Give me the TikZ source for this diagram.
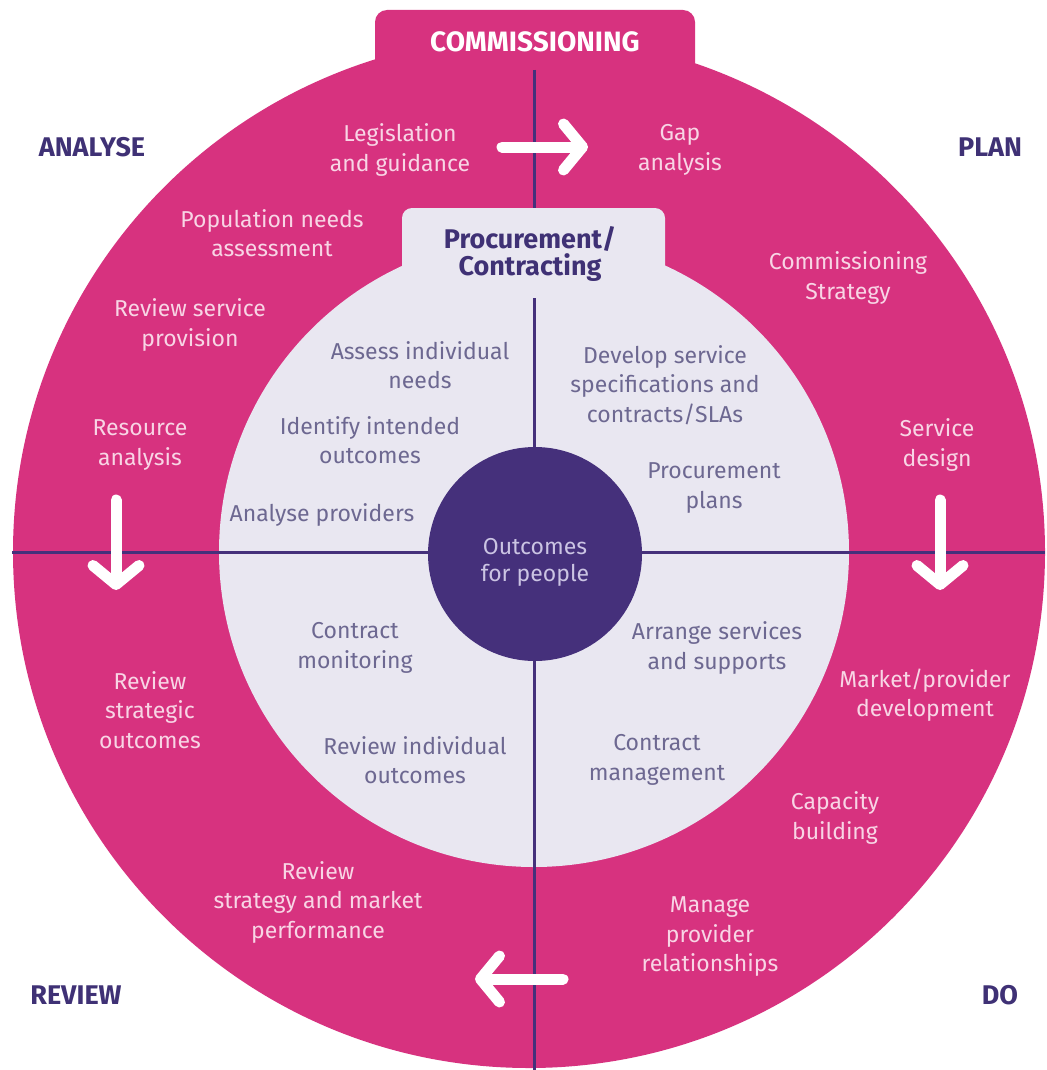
\documentclass[tikz,border=0pt]{standalone}
\usepackage{fontspec}
\setmainfont{Fira Sans}
\usepackage{xcolor}
\usetikzlibrary{arrows.meta, positioning}

\definecolor{cpink}{HTML}{D7327F}
\definecolor{clight}{HTML}{E9E7F1}
\definecolor{cdark}{HTML}{45307B}
\definecolor{cptext}{HTML}{F8D5E5}
\definecolor{citext}{HTML}{6D6891}
\definecolor{chead}{HTML}{3F3175}
\definecolor{cctext}{HTML}{CBC4E3}

\begin{document}
\begin{tikzpicture}[x=1pt, y=-1pt,
        outertext/.style={align=center, text=cptext, font=\fontsize{23}{29.5}\selectfont},
        innertext/.style={align=center, text=citext, font=\fontsize{23}{29.5}\selectfont},
        phase/.style={text=chead, font=\bfseries\fontsize{27}{30}\selectfont},
        divider/.style={draw=cdark, line width=3pt},
        turn/.style={draw=white, line width=11pt, line cap=round,
            -{Straight Barb[round, length=19pt, width=46pt]}}
    ]
        \useasboundingbox (0,0) rectangle (1046,1070);

        % rings
        \fill[cpink, rounded corners=12pt] (375,10) rectangle (695,110);
        \fill[cpink] (529,552) circle (516);
        \fill[clight, rounded corners=10pt] (402,208) rectangle (665,310);
        \fill[clight] (534,552) circle (315);

        % dividers
        \coordinate (ntop) at (534,70);
        \coordinate (ntab) at (534,208);
        \coordinate (nin) at (534,298);
        \coordinate (sbot) at (534,1070);
        \coordinate (west) at (12,552);
        \coordinate (east) at (1045,552);
        \draw[divider] (ntop) -- (ntab);
        \draw[divider] (nin) -- (sbot);
        \draw[divider] (west) -- (east);

        \node[circle, fill=cdark, minimum size=214pt, inner sep=0pt] (core) at (535,554) {};
        \node[align=center, text=cctext, font=\fontsize{23}{27}\selectfont] (outcomes) at (535,562) {Outcomes\\for people};

        % turning arrows
        \coordinate (a1) at (502,147);
        \coordinate (a2) at (588,147);
        \coordinate (b1) at (116,500);
        \coordinate (b2) at (116,590);
        \coordinate (c1) at (940,500);
        \coordinate (c2) at (940,590);
        \coordinate (d1) at (563,979);
        \coordinate (d2) at (475,979);
        \draw[turn] (a1) -- (a2);
        \draw[turn] (b1) -- (b2);
        \draw[turn] (c1) -- (c2);
        \draw[turn] (d1) -- (d2);

        % headings
        \node[text=white, font=\bfseries\fontsize{28}{30}\selectfont] (comm) at (535,42) {COMMISSIONING};
        \node[phase] (analyse) at (92,147) {ANALYSE};
        \node[phase] (plan) at (990,147) {PLAN};
        \node[phase] (review) at (76,995) {REVIEW};
        \node[phase] (do) at (1000,995) {DO};
        \node[align=center, text=chead, font=\bfseries\fontsize{27}{27}\selectfont] (proc) at (530,254) {Procurement/\\Contracting};

        % outer ring
        \node[outertext] (legis) at (400,150) {Legislation\\and guidance};
        \node[outertext] (gap) at (680,150) {Gap\\analysis};
        \node[outertext] (popn) at (272,233) {Population needs\\assessment};
        \node[outertext] (revserv) at (190,325) {Review service\\provision};
        \node[outertext] (resource) at (140,445) {Resource\\analysis};
        \node[outertext] (strategy) at (848,278) {Commissioning\\Strategy};
        \node[outertext] (design) at (937,445) {Service\\design};
        \node[outertext] (revstrat) at (150,710) {Review\\strategic\\outcomes};
        \node[outertext] (market) at (925,695) {Market/provider\\development};
        \node[outertext] (capacity) at (835,818) {Capacity\\building};
        \node[outertext] (revmarket) at (318,902) {Review\\strategy and market\\performance};
        \node[outertext] (manage) at (710,937) {Manage\\provider\\relationships};

        % inner ring
        \node[innertext] (assess) at (420,365) {Assess individual\\needs};
        \node[innertext] (identify) at (370,440) {Identify intended\\outcomes};
        \node[innertext] (providers) at (322,515) {Analyse providers};
        \node[innertext] (develop) at (665,385) {Develop service\\specifications and\\contracts/SLAs};
        \node[innertext] (plans) at (714,488) {Procurement\\plans};
        \node[innertext] (monitor) at (355,648) {Contract\\monitoring};
        \node[innertext] (arrange) at (717,648) {Arrange services\\and supports};
        \node[innertext] (revind) at (415,760) {Review individual\\outcomes};
        \node[innertext] (manage2) at (657,760) {Contract\\management};
\end{tikzpicture}
\end{document}
